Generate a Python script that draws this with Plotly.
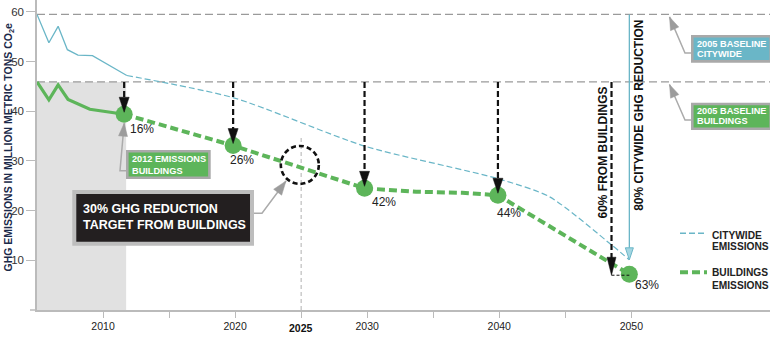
import math
import plotly.graph_objects as go

# ---------------- data ----------------
city_hist_year = [2005, 2005.9, 2006.6, 2007.3, 2008.1, 2009.2, 2011.8]
city_hist_val = [59.5, 53.8, 57.1, 52.4, 51.3, 51.2, 47.2]
city_proj_year = [2011.8, 2019.9, 2029.8, 2039.8, 2043.8, 2048.5, 2049.85]
city_proj_val = [47.2, 42.7, 33.0, 26.5, 22.8, 13.1, 10.1]
bld_hist_year = [2005, 2005.9, 2006.6, 2007.35, 2009.0, 2011.6]
bld_hist_val = [45.9, 42.3, 45.3, 42.4, 40.4, 39.4]
bld_proj_year = [2011.6, 2019.85, 2029.8, 2033.7, 2037.2, 2039.9, 2049.85]
bld_proj_val = [39.4, 33.1, 24.5, 23.8, 23.6, 23.1, 7.2]
milestone_year = [2011.6, 2019.85, 2029.8, 2039.9, 2049.85]
milestone_val = [39.4, 33.1, 24.5, 23.1, 7.2]
milestone_pct = ["16%", "26%", "42%", "44%", "63%"]
baseline_city = 59.5
baseline_bld = 45.9
hist_end_year = 2011.75
target_year, target_val = 2024.9, 29.2
target_line_year = 2025
bld_2050_arrow_year, bld_2050_arrow_val = 2048.5, 7.0
city_2050_arrow_year, city_2050_arrow_val = 2049.85, 10.1
x_tick_vals = [2010, 2020, 2030, 2040, 2050]
x_tick_text = ["2010", "2020", "2030", "2040", "2050"]
x_minor_tick_vals = [2015, 2025, 2035, 2045]
y_tick_vals = [10, 20, 30, 40, 50, 60]

# ---------------- styling / geometry ----------------
W, H = 770, 348
ML, MR, MT, MB = 37, 0, 0, 38
PW, PH = W - ML - MR, H - MT - MB
X_RANGE = [2005, 2060.5]
Y_RANGE = [0, 62.4]
CYAN = "#6AB6C7"
GREEN = "#5DB55A"
FONT = "Liberation Sans, Arial, sans-serif"

# label offsets (pixels) relative to milestone markers
label_dx = [4, -5, 5, -3, 4]
label_dy = [15, 14, 14, 18, 11]


def px_x(year):
    return ML + (year - X_RANGE[0]) / (X_RANGE[1] - X_RANGE[0]) * PW


def px_y(v):
    return MT + PH - (v - Y_RANGE[0]) / (Y_RANGE[1] - Y_RANGE[0]) * PH


def pap_x(px):
    return (px - ML) / PW


def pap_y(py):
    return (MT + PH - py) / PH


shapes = []
annotations = []


def pline(x0, y0, x1, y1, color, width, dash="solid", layer="above"):
    shapes.append(dict(type="line", xref="paper", yref="paper",
                       x0=pap_x(x0), y0=pap_y(y0), x1=pap_x(x1), y1=pap_y(y1),
                       line=dict(color=color, width=width, dash=dash), layer=layer))


def ppath(points, color, width, fill=None, closed=False):
    d = "M " + " L ".join(f"{pap_x(a):.5f},{pap_y(b):.5f}" for a, b in points)
    if closed:
        d += " Z"
    s = dict(type="path", xref="paper", yref="paper", path=d,
             line=dict(color=color, width=width), layer="above")
    if fill:
        s["fillcolor"] = fill
    shapes.append(s)


def head(tip, frm, length, width, fill, outline=None):
    dx, dy = tip[0] - frm[0], tip[1] - frm[1]
    n = math.hypot(dx, dy)
    ux, uy = dx / n, dy / n
    bx, by = tip[0] - ux * length, tip[1] - uy * length
    nx, ny = -uy, ux
    pts = [tip, (bx + nx * width / 2, by + ny * width / 2),
           (bx - nx * width / 2, by - ny * width / 2)]
    ppath(pts, outline or fill, 1 if outline else 0.5, fill=fill, closed=True)
    return (bx, by)


def ptext(text, x, y, size, color, bold=False, xanchor="left", angle=0, family=FONT):
    annotations.append(dict(text=f"<b>{text}</b>" if bold else text,
                            xref="paper", yref="paper", x=pap_x(x), y=pap_y(y),
                            xanchor=xanchor, yanchor="middle", showarrow=False,
                            textangle=angle,
                            font=dict(family=family, size=size, color=color)))


def prect(x0, y0, x1, y1, fill, border, bw):
    shapes.append(dict(type="rect", xref="paper", yref="paper",
                       x0=pap_x(x0 + bw / 2), y0=pap_y(y0 + bw / 2),
                       x1=pap_x(x1 - bw / 2), y1=pap_y(y1 - bw / 2),
                       fillcolor=fill, line=dict(color=border, width=bw), layer="above"))


fig = go.Figure()

# shaded historical region and baselines
shapes.append(dict(type="rect", xref="x", yref="y", x0=X_RANGE[0], x1=hist_end_year,
                   y0=0, y1=baseline_bld, fillcolor="#E1E1E1", line=dict(width=0), layer="below"))
for b in (baseline_city, baseline_bld):
    shapes.append(dict(type="line", xref="x", yref="y", x0=X_RANGE[0], x1=X_RANGE[1],
                       y0=b, y1=b, line=dict(color="#9A9A9A", width=1.2, dash="8px,4px"),
                       layer="below"))
shapes.append(dict(type="line", xref="x", yref="y", x0=target_line_year, x1=target_line_year,
                   y0=0, y1=34.9, line=dict(color="#B0B0B0", width=1, dash="4px,3px"),
                   layer="below"))
# x-axis line extension to the left of the y axis
pline(30, px_y(0), ML, px_y(0), "#BBBBBB", 1.5)

# traces
fig.add_trace(go.Scatter(x=city_hist_year, y=city_hist_val, mode="lines",
                         line=dict(color=CYAN, width=1.3), hoverinfo="skip"))
fig.add_trace(go.Scatter(x=city_proj_year, y=city_proj_val, mode="lines",
                         line=dict(color=CYAN, width=1.2, dash="6px,3px", shape="spline",
                                   smoothing=0.7), hoverinfo="skip"))
fig.add_trace(go.Scatter(x=bld_hist_year, y=bld_hist_val, mode="lines",
                         line=dict(color=GREEN, width=3.2), hoverinfo="skip"))
fig.add_trace(go.Scatter(x=bld_proj_year, y=bld_proj_val, mode="lines",
                         line=dict(color=GREEN, width=4, dash="8px,4px"), hoverinfo="skip"))
fig.add_trace(go.Scatter(x=milestone_year, y=milestone_val, mode="markers",
                         marker=dict(color=GREEN, size=17, line=dict(width=0)), hoverinfo="skip"))

# percentage labels
for yr, v, t, dx, dy in zip(milestone_year, milestone_val, milestone_pct, label_dx, label_dy):
    ptext(t, px_x(yr) + dx, px_y(v) + dy, 12, "#222222")

# black dashed arrows from the buildings baseline to milestones
for yr, v in zip(milestone_year[:4], milestone_val[:4]):
    x = px_x(yr)
    tip = (x, px_y(v) - 2)
    base = head(tip, (x, px_y(baseline_bld)), 15, 10, "#111111")
    pline(x, px_y(baseline_bld), x, base[1] + 1, "#111111", 2.2, "6px,3px")

# 60% from buildings arrow
x60 = px_x(bld_2050_arrow_year)
tip60 = (x60, px_y(bld_2050_arrow_val))
base60 = head(tip60, (x60, px_y(baseline_bld)), 18, 9, "#111111")
pline(x60, px_y(baseline_bld), x60, base60[1] + 1, "#111111", 2.2, "6px,3px")
pline(x60, tip60[1], px_x(milestone_year[-1]), tip60[1], "#111111", 1, "3px,2px")
ptext("60% FROM BUILDINGS", x60 - 9, 153, 12, "#111111", bold=True, xanchor="center", angle=-90)

# 80% citywide arrow
x80 = px_x(city_2050_arrow_year)
tip80 = (x80, px_y(city_2050_arrow_val))
base80 = head(tip80, (x80, px_y(baseline_city)), 12, 8, "#A3D6E2", outline=CYAN)
pline(x80, px_y(baseline_city), x80, base80[1], CYAN, 1.3)
ptext("80% CITYWIDE GHG REDUCTION", x80 + 9, 115.5, 12, "#111111", bold=True,
      xanchor="center", angle=-90)

# 2025 target circle
cx, cy, r = px_x(target_year), px_y(target_val), 19
shapes.append(dict(type="circle", xref="paper", yref="paper",
                   x0=pap_x(cx - r), x1=pap_x(cx + r), y0=pap_y(cy + r), y1=pap_y(cy - r),
                   line=dict(color="#111111", width=2.6, dash="5px,3px"), layer="above"))

# gray pointers from callout boxes
PG, HG = "#ABABAB", "#9C9C9C"
t1 = (669.5, px_y(baseline_city) + 2.5)
ppath([(691, 53), (685, 53), t1], PG, 1.5)
head(t1, (685, 53), 13, 9, HG)
t2 = (669.5, px_y(baseline_bld) + 2.5)
ppath([(691, 120), (685, 120), t2], PG, 1.5)
head(t2, (685, 120), 13, 9, HG)
t3 = (px_x(milestone_year[0]), px_y(milestone_val[0]) + 9)
ppath([(126, 170.7), (120, 170.7), t3], PG, 1.5)
head(t3, (120, 170.7), 13, 9, HG)
t4 = (286, 181)
ppath([(254, 213.3), (262, 213.3), t4], PG, 1.5)
head(t4, (262, 213.3), 14, 10, HG)

# callout boxes
BOXF = 9.2
prect(691, 35, 772, 62.7, CYAN, "#A9A9A9", 2.6)
ptext("2005 BASELINE", 694.5, 43.8, BOXF, "white", bold=True)
ptext("CITYWIDE", 694.5, 54.3, BOXF, "white", bold=True)
prect(691, 102.7, 772, 130, GREEN, "#A9A9A9", 2.6)
ptext("2005 BASELINE", 694.5, 110.5, BOXF, "white", bold=True)
ptext("BUILDINGS", 694.5, 121, BOXF, "white", bold=True)
prect(126, 150, 210.7, 179, GREEN, "#A9A9A9", 2.6)
ptext("2012 EMISSIONS", 129.5, 159.3, BOXF, "white", bold=True)
ptext("BUILDINGS", 129.5, 170.5, BOXF, "white", bold=True)
prect(72.3, 190, 254, 245.7, "#231F20", "#BDBDBD", 4)
ptext("30% GHG REDUCTION", 81, 209.3, 12.5, "white", bold=True)
ptext("TARGET FROM BUILDINGS", 81, 224.6, 12.5, "white", bold=True)

# manual legend
LEGF = 10.2
pline(680, 233.3, 707, 233.3, CYAN, 1.6, "6px,3px")
ptext("CITYWIDE", 710, 235, LEGF, "#222222", bold=True)
ptext("EMISSIONS", 710, 246.8, LEGF, "#222222", bold=True)
pline(680, 272.3, 707, 272.3, GREEN, 4, "8px,4px")
ptext("BUILDINGS", 710, 272.5, LEGF, "#222222", bold=True)
ptext("EMISSIONS", 710, 285, LEGF, "#222222", bold=True)

# 2025 bold tick label and y-axis title
ptext("2025", px_x(target_line_year), 327.5, 10.5, "#111111", bold=True, xanchor="center")
ptext("GHG EMISSIONS IN MILLION METRIC TONS CO<sub>2</sub>e", 8, 147.5, 10.5, "#1B2A4A",
      bold=True, xanchor="center", angle=-90)

fig.update_layout(
    width=W, height=H,
    margin=dict(l=ML, r=MR, t=MT, b=MB, pad=0),
    paper_bgcolor="white", plot_bgcolor="white",
    showlegend=False,
    font=dict(family=FONT),
    shapes=shapes, annotations=annotations,
    xaxis=dict(range=X_RANGE, tickvals=x_tick_vals, ticktext=x_tick_text,
               ticks="outside", ticklen=6, tickcolor="#BBBBBB", tickwidth=1,
               minor=dict(tickvals=x_minor_tick_vals, ticks="outside", ticklen=6,
                          tickcolor="#BBBBBB", tickwidth=1, showgrid=False),
               showline=True, linecolor="#BBBBBB", linewidth=1.5,
               showgrid=False, zeroline=False,
               tickfont=dict(family=FONT, size=10.5, color="#222222"), fixedrange=True),
    yaxis=dict(range=Y_RANGE, tickvals=y_tick_vals,
               ticks="outside", ticklen=9, tickcolor="#BBBBBB", tickwidth=1,
               showline=True, linecolor="#BBBBBB", linewidth=1.5,
               showgrid=False, zeroline=False,
               tickfont=dict(family=FONT, size=11.5, color="#333333"), fixedrange=True),
)

fig.write_html("out.html", config={"displayModeBar": False})
